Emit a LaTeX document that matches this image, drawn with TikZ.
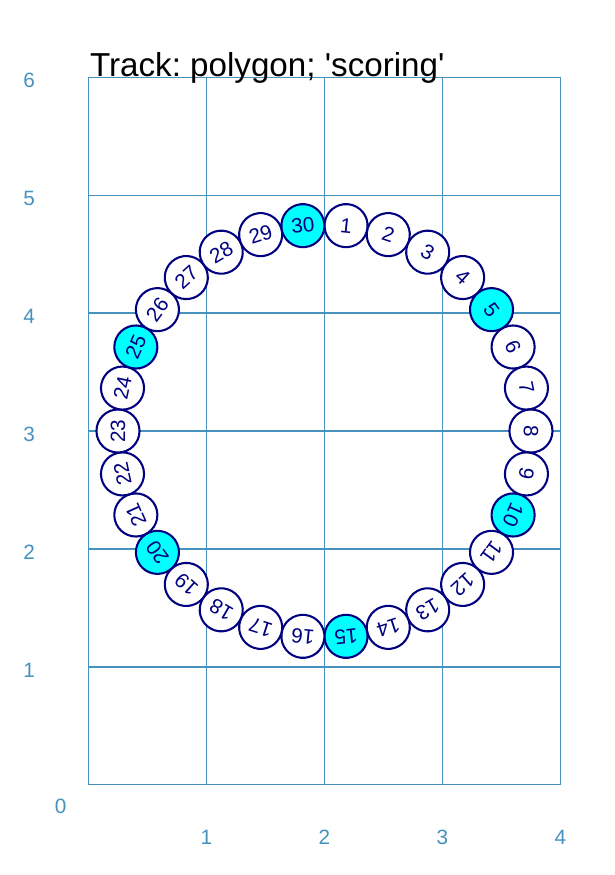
\documentclass[tikz,border=0pt]{standalone}
\usepackage{fontspec}
\setmainfont{Liberation Sans}
\definecolor{navy}{RGB}{0,0,128}
\definecolor{aqua}{RGB}{0,255,255}
\definecolor{gridblue}{RGB}{70,145,190}
\frenchspacing
\begin{document}
\begin{tikzpicture}[x=2cm,y=2cm,font=\fontsize{10}{12}\selectfont,
  tn/.style={circle,draw=navy,line width=1pt,fill=white,text=navy,minimum size=7.3mm,inner sep=0pt},
  sn/.style={tn,fill=aqua},
  ax/.style={text=gridblue,inner sep=0pt},
  gl/.style={draw=gridblue,line width=0.5pt}]
\useasboundingbox (-0.75,-0.763) rectangle (4.462,6.653);
% grid
\foreach \i in {0,...,4} \draw[gl] (\i,0) -- (\i,6);
\foreach \j in {0,...,6} \draw[gl] (0,\j) -- (4,\j);
% axis labels
\node[ax] (l0) at (-0.236,-0.178) {0};
\foreach \i in {1,...,4} \node[ax] (lx\i) at (\i,-0.44) {\i};
\foreach \j in {1,...,6} \node[ax] (ly\j) at (-0.504,\j-0.03) {\j};
\node[anchor=base west,inner sep=0pt,font=\fontsize{16}{19}\selectfont] (title) at (0.01,6.003)
  {Track: polygon; \textquotesingle scoring\textquotesingle};
% track, every fifth one scoring
\foreach \k in {1,...,30}{
  \pgfmathtruncatemacro{\rem}{mod(\k,5)}
  \ifnum\rem=0 \def\nst{sn}\else\def\nst{tn}\fi
  \node[\nst,rotate=6-12*\k] (n\k) at ([shift={(2,3)}]{96-12*\k}:1.75) {\k};
}
\end{tikzpicture}
\end{document}
